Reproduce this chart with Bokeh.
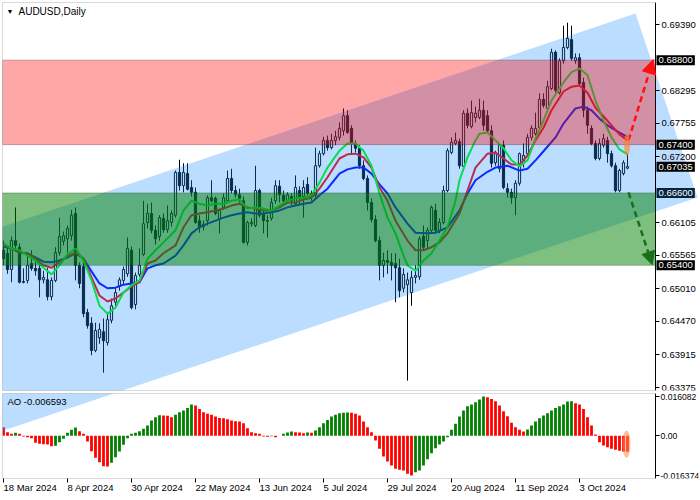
from bokeh.plotting import figure
from bokeh.layouts import column
from bokeh.models import (Range1d, FixedTicker, PrintfTickFormatter, Label, Arrow,
                          NormalHead, ColumnDataSource, BoxAnnotation)
from bokeh.embed import file_html
from bokeh.resources import INLINE

# ---------------- data ----------------
opens = [0.6565,0.6560,0.6533,0.6581,0.6570,0.6513,0.6515,0.6543,0.6535,0.6535,
         0.6516,0.6516,0.6488,0.6515,0.6561,0.6580,0.6584,0.6589,0.6626,0.6540,
         0.6538,0.6462,0.6444,0.6399,0.6420,0.6430,0.6412,0.6449,0.6479,0.6505,
         0.6515,0.6526,0.6565,0.6475,0.6525,0.6558,0.6611,0.6626,0.6598,0.6588,
         0.6618,0.6599,0.6611,0.6623,0.6694,0.6672,0.6692,0.6669,0.6661,0.6614,
         0.6604,0.6614,0.6652,0.6651,0.6618,0.6636,0.6647,0.6684,0.6664,0.6657,
         0.6647,0.6578,0.6609,0.6606,0.6664,0.6626,0.6614,0.6618,0.6647,0.6671,
         0.6656,0.6647,0.6654,0.6642,0.6664,0.6654,0.6674,0.6659,0.6656,0.6705,
         0.6725,0.6747,0.6735,0.6747,0.6752,0.6763,0.6788,0.6767,0.6742,0.6734,
         0.6705,0.6684,0.6644,0.6616,0.6581,0.6540,0.6548,0.6545,0.6543,0.6536,
         0.6502,0.6508,0.6495,0.6520,0.6521,0.6588,0.6581,0.6598,0.6631,0.6598,
         0.6611,0.6664,0.6727,0.6742,0.6745,0.6704,0.6792,0.6770,0.6785,0.6785,
         0.6797,0.6788,0.6763,0.6710,0.6700,0.6739,0.6667,0.6661,0.6652,0.6676,
         0.6709,0.6725,0.6752,0.6758,0.6768,0.6815,0.6800,0.6833,0.6893,0.6826,
         0.6879,0.6901,0.6914,0.6879,0.6884,0.6843,0.6797,0.6767,0.6742,0.6717,
         0.6739,0.6747,0.6725,0.6705,0.6664,0.6692,0.6701]
highs = [0.6581,0.6573,0.6588,0.6636,0.6576,0.6535,0.6560,0.6565,0.6545,0.6540,
         0.6531,0.6536,0.6520,0.6570,0.6619,0.6596,0.6606,0.6632,0.6636,0.6545,
         0.6545,0.6468,0.6454,0.6445,0.6444,0.6452,0.6460,0.6485,0.6503,0.6520,
         0.6538,0.6586,0.6571,0.6528,0.6568,0.6647,0.6642,0.6644,0.6606,0.6623,
         0.6626,0.6639,0.6631,0.6697,0.6715,0.6709,0.6709,0.6681,0.6669,0.6623,
         0.6614,0.6656,0.6681,0.6654,0.6634,0.6659,0.6697,0.6700,0.6672,0.6667,
         0.6654,0.6614,0.6618,0.6705,0.6667,0.6631,0.6623,0.6652,0.6681,0.6681,
         0.6664,0.6661,0.6659,0.6689,0.6671,0.6681,0.6686,0.6664,0.6735,0.6730,
         0.6753,0.6755,0.6758,0.6763,0.6777,0.6800,0.6797,0.6772,0.6747,0.6739,
         0.6714,0.6689,0.6651,0.6623,0.6588,0.6561,0.6565,0.6560,0.6560,0.6551,
         0.6535,0.6528,0.6531,0.6540,0.6588,0.6606,0.6603,0.6639,0.6642,0.6618,
         0.6672,0.6734,0.6752,0.6760,0.6750,0.6797,0.6800,0.6813,0.6803,0.6816,
         0.6813,0.6797,0.6772,0.6730,0.6742,0.6747,0.6676,0.6667,0.6681,0.6727,
         0.6742,0.6758,0.6772,0.6793,0.6825,0.6825,0.6846,0.6899,0.6896,0.6883,
         0.6937,0.6942,0.6937,0.6891,0.6891,0.6851,0.6803,0.6772,0.6747,0.6750,
         0.6758,0.6753,0.6730,0.6710,0.6700,0.6714,0.6725]
lows = [0.6540,0.6526,0.6512,0.6565,0.6510,0.6510,0.6510,0.6531,0.6523,0.6487,
        0.6510,0.6482,0.6482,0.6512,0.6556,0.6573,0.6561,0.6581,0.6515,0.6502,
        0.6454,0.6435,0.6391,0.6396,0.6410,0.6362,0.6407,0.6444,0.6473,0.6498,
        0.6507,0.6521,0.6467,0.6467,0.6521,0.6555,0.6601,0.6593,0.6574,0.6581,
        0.6594,0.6594,0.6604,0.6619,0.6664,0.6661,0.6664,0.6654,0.6609,0.6594,
        0.6598,0.6606,0.6644,0.6623,0.6593,0.6632,0.6644,0.6659,0.6652,0.6644,
        0.6576,0.6573,0.6604,0.6603,0.6619,0.6593,0.6586,0.6614,0.6642,0.6644,
        0.6642,0.6644,0.6639,0.6639,0.6641,0.6619,0.6656,0.6647,0.6652,0.6702,
        0.6722,0.6730,0.6732,0.6739,0.6747,0.6755,0.6758,0.6725,0.6727,0.6700,
        0.6681,0.6631,0.6611,0.6578,0.6515,0.6520,0.6526,0.6515,0.6479,0.6487,
        0.6495,0.6349,0.6473,0.6510,0.6516,0.6566,0.6568,0.6594,0.6594,0.6593,
        0.6608,0.6661,0.6724,0.6739,0.6700,0.6697,0.6767,0.6767,0.6777,0.6782,
        0.6763,0.6760,0.6702,0.6705,0.6694,0.6666,0.6652,0.6642,0.6623,0.6672,
        0.6702,0.6722,0.6747,0.6755,0.6765,0.6801,0.6797,0.6830,0.6826,0.6823,
        0.6874,0.6898,0.6879,0.6874,0.6838,0.6785,0.6758,0.6739,0.6714,0.6714,
        0.6735,0.6710,0.6702,0.6661,0.6661,0.6689,0.6699]
closes = [0.6551,0.6533,0.6581,0.6573,0.6512,0.6512,0.6540,0.6535,0.6531,0.6516,
          0.6520,0.6488,0.6515,0.6561,0.6588,0.6589,0.6601,0.6623,0.6540,0.6510,
          0.6460,0.6440,0.6399,0.6432,0.6434,0.6415,0.6450,0.6473,0.6495,0.6516,
          0.6533,0.6568,0.6470,0.6523,0.6540,0.6609,0.6626,0.6598,0.6584,0.6619,
          0.6599,0.6614,0.6626,0.6694,0.6672,0.6694,0.6666,0.6661,0.6611,0.6603,
          0.6608,0.6652,0.6647,0.6626,0.6631,0.6652,0.6684,0.6664,0.6657,0.6651,
          0.6578,0.6611,0.6611,0.6664,0.6623,0.6614,0.6613,0.6644,0.6672,0.6657,
          0.6647,0.6657,0.6647,0.6669,0.6651,0.6669,0.6659,0.6654,0.6705,0.6725,
          0.6747,0.6735,0.6747,0.6753,0.6767,0.6788,0.6760,0.6742,0.6734,0.6705,
          0.6684,0.6644,0.6616,0.6581,0.6540,0.6548,0.6545,0.6540,0.6536,0.6498,
          0.6525,0.6516,0.6520,0.6523,0.6584,0.6570,0.6598,0.6636,0.6598,0.6611,
          0.6664,0.6730,0.6744,0.6747,0.6705,0.6792,0.6772,0.6793,0.6792,0.6797,
          0.6772,0.6763,0.6709,0.6725,0.6739,0.6669,0.6661,0.6652,0.6676,0.6725,
          0.6722,0.6752,0.6767,0.6767,0.6815,0.6805,0.6836,0.6893,0.6830,0.6879,
          0.6901,0.6916,0.6883,0.6884,0.6841,0.6797,0.6772,0.6742,0.6717,0.6742,
          0.6750,0.6725,0.6705,0.6664,0.6697,0.6710,0.67035]

# Alligator lines (sampled along the curves)
jaw_x = [0,2,4,6,8,10,12,14,16,18,20,22,24,26,28,30,32,34,36,38,40,43,45,47,49,51,53,55,57,59,
         61,63,65,67,69,71,73,75,77,79,81,84,86,88,90,92,94,96,98,101,103,106,108,111,114,116,
         118,121,123,126,129,131,133,135,138,140,143,145,147,149,151,154,156]
jaw = [0.6571,0.6568,0.6561,0.6560,0.6553,0.6546,0.6545,0.6548,0.6553,0.6560,0.6551,0.6530,
       0.6510,0.6502,0.6503,0.6508,0.6510,0.6512,0.6535,0.6540,0.6543,0.6556,0.6573,0.6593,
       0.6603,0.6609,0.6614,0.6619,0.6623,0.6626,0.6628,0.6626,0.6626,0.6628,0.6631,0.6636,
       0.6639,0.6642,0.6644,0.6656,0.6667,0.6692,0.6699,0.6702,0.6702,0.6692,0.6674,0.6659,
       0.6636,0.6609,0.6594,0.6593,0.6594,0.6603,0.6631,0.6659,0.6681,0.6695,0.6702,0.6705,
       0.6697,0.6700,0.6714,0.6729,0.6752,0.6775,0.6800,0.6803,0.6797,0.6783,0.6772,0.6760,
       0.6753]
teeth_x = [0,2,4,6,8,10,12,14,16,18,20,22,24,26,28,30,32,34,36,38,40,43,45,47,49,51,53,55,57,59,
           61,63,65,67,69,71,73,75,77,79,81,84,86,88,90,92,94,96,98,101,103,105,107,109,111,114,
           116,118,121,123,125,127,129,131,133,135,137,140,142,144,146,148,150,152,154,156]
teeth = [0.6573,0.6568,0.6561,0.6560,0.6551,0.6540,0.6536,0.6545,0.6555,0.6561,0.6551,0.6520,
         0.6490,0.6480,0.6485,0.6495,0.6505,0.6512,0.6543,0.6548,0.6560,0.6573,0.6603,0.6623,
         0.6626,0.6628,0.6631,0.6634,0.6639,0.6642,0.6636,0.6634,0.6631,0.6631,0.6636,0.6644,
         0.6644,0.6649,0.6652,0.6667,0.6686,0.6717,0.6724,0.6725,0.6719,0.6702,0.6669,0.6647,
         0.6614,0.6581,0.6565,0.6565,0.6570,0.6578,0.6593,0.6626,0.6664,0.6702,0.6725,0.6727,
         0.6717,0.6707,0.6707,0.6722,0.6747,0.6768,0.6797,0.6828,0.6836,0.6838,0.6826,0.6801,
         0.6787,0.6772,0.6757,0.6747]
lips_x = [0,2,4,6,8,10,12,14,16,18,20,22,24,26,28,30,32,34,36,38,40,43,45,47,49,51,53,55,57,59,
          61,63,65,67,69,71,73,75,77,79,81,84,86,88,90,92,94,96,98,100,101,103,105,107,109,111,
          113,114,116,118,119,121,123,125,127,129,131,133,135,137,140,142,144,146,148,150,152,
          154,156]
lips = [0.6576,0.6568,0.6565,0.6556,0.6548,0.6536,0.6525,0.6540,0.6558,0.6568,0.6548,0.6515,
        0.6473,0.6460,0.6470,0.6495,0.6507,0.6515,0.6551,0.6565,0.6578,0.6598,0.6631,0.6647,
        0.6642,0.6639,0.6642,0.6642,0.6647,0.6649,0.6634,0.6636,0.6634,0.6631,0.6639,0.6647,
        0.6651,0.6652,0.6656,0.6677,0.6702,0.6730,0.6742,0.6742,0.6730,0.6705,0.6659,0.6619,
        0.6593,0.6556,0.6540,0.6531,0.6548,0.6560,0.6581,0.6603,0.6647,0.6681,0.6719,0.6747,
        0.6758,0.6760,0.6747,0.6734,0.6714,0.6704,0.6714,0.6750,0.6780,0.6813,0.6843,0.6860,
        0.6866,0.6855,0.6813,0.6780,0.6752,0.6732,0.6724]

# Awesome Oscillator
ao = [0.00349,0.00144,0.00075,0.00116,0.00075,-0.00034,-0.00062,-0.00103,-0.00294,-0.00335,
      -0.00349,-0.00363,-0.00431,-0.00418,-0.00267,-0.00130,0.00116,0.00240,0.00335,0.00185,
      0.00075,-0.00240,-0.00637,-0.00910,-0.01088,-0.01253,-0.01266,-0.01116,-0.00883,-0.00650,
      -0.00376,-0.00103,0.00075,0.00116,0.00185,0.00281,0.00418,0.00623,0.00760,0.00842,
      0.00828,0.00815,0.00760,0.00856,0.00965,0.01034,0.01143,0.01280,0.01239,0.01102,
      0.00965,0.00897,0.00856,0.00787,0.00732,0.00719,0.00678,0.00623,0.00596,0.00582,
      0.00513,0.00308,0.00144,0.00103,0.00075,-0.00034,-0.00048,-0.00021,-0.00062,-0.00007,
      0.00075,0.00130,0.00171,0.00144,0.00130,0.00103,0.00130,0.00116,0.00212,0.00349,
      0.00513,0.00650,0.00787,0.00856,0.00924,0.00938,0.00951,0.00938,0.00897,0.00828,
      0.00582,0.00349,0.00144,-0.00199,-0.00541,-0.00856,-0.01061,-0.01225,-0.01362,-0.01403,
      -0.01431,-0.01568,-0.016374,-0.01499,-0.01431,-0.01225,-0.00965,-0.00719,-0.00513,-0.00363,
      -0.00240,-0.00062,0.00240,0.00486,0.00787,0.01034,0.01212,0.01280,0.01376,0.01485,
      0.016082,0.01581,0.01513,0.01417,0.01239,0.01006,0.00801,0.00527,0.00349,0.00240,
      0.00171,0.00253,0.00418,0.00582,0.00719,0.00828,0.00924,0.01034,0.01143,0.01212,
      0.01280,0.01403,0.01417,0.01335,0.01280,0.01102,0.00760,0.00418,0.00048,-0.00267,
      -0.00404,-0.00472,-0.00541,-0.00582,-0.00623,-0.00650,-0.006593]

price_ticks = [0.69390, 0.68295, 0.67755, 0.67200, 0.66105, 0.65565, 0.65010, 0.64470, 0.63915, 0.63375]
marked_levels = [0.68800, 0.67400, 0.67035, 0.66600, 0.65400]
date_ticks = [0, 16, 32, 48, 64, 80, 96, 112, 128, 144]
date_labels = ["18 Mar 2024", "8 Apr 2024", "30 Apr 2024", "22 May 2024", "13 Jun 2024",
               "5 Jul 2024", "29 Jul 2024", "20 Aug 2024", "11 Sep 2024", "3 Oct 2024"]
ao_ticks = [0.016082, 0.0, -0.016374]
ao_tick_labels = ["0.016082", "0.00", "-0.016374"]

# analyst drawings (bar index, price)
channel_x = [-5.75, 158.0, 173.5, -5.75]
channel_y = [0.65916, 0.69573, 0.66524, 0.62535]
resist_zone = (0.674, 0.688)
support_zone = (0.654, 0.666)
up_arrow = (156.25, 0.6747, 162.4, 0.6881)
down_arrow = (156.25, 0.6661, 162.2, 0.6541)

# ---------------- layout ----------------
FONT = "Liberation Sans"
FS = "9.5px"
X0 = -0.25
PX_PER_BAR = 4.0
FW = 696
X1 = X0 + FW / PX_PER_BAR
AXIS_X = 163.0          # right edge of the price panels (price scale sits here)
P0, P1 = 0.63326, 0.69755
A0, A1 = -0.01759, 0.01734
MH, AH = 388, 85
MAIN_BOTTOM, AO_TOP = 3, 0
GAP = MAIN_BOTTOM + AO_TOP

N = len(closes)
idx = list(range(N))


def style_price_axis(ax, size, standoff):
    ax.fixed_location = AXIS_X
    ax.major_label_text_font = FONT
    ax.major_label_text_font_size = size
    ax.major_label_text_color = "black"
    ax.major_tick_out = 4
    ax.major_tick_in = 0
    ax.minor_tick_out = 0
    ax.minor_tick_in = 0
    ax.major_label_standoff = standoff
    ax.axis_line_color = "black"


main = figure(frame_width=FW, frame_height=MH, x_range=Range1d(X0, X1), y_range=Range1d(P0, P1),
              output_backend="svg", toolbar_location=None, y_axis_location="right",
              x_axis_location=None, min_border_left=2, min_border_right=1,
              min_border_top=2, min_border_bottom=MAIN_BOTTOM)
main.grid.visible = False
main.outline_line_color = None
main.background_fill_color = "white"
main.border_fill_color = "white"

ya = main.yaxis[0]
ya.ticker = FixedTicker(ticks=price_ticks)
ya.formatter = PrintfTickFormatter(format="%.5f")
style_price_axis(ya, FS, 2)

src = ColumnDataSource(dict(
    x=idx, h=highs, l=lows,
    top=[max(o, c) for o, c in zip(opens, closes)],
    bot=[min(o, c) for o, c in zip(opens, closes)],
    fill=["white" if c > o else "black" for o, c in zip(opens, closes)],
))
main.segment("x", "h", "x", "l", source=src, line_color="black", line_width=1)
main.vbar(x="x", width=0.55, top="top", bottom="bot", source=src,
          fill_color="fill", line_color="black", line_width=1)

main.line(jaw_x, jaw, line_color="#0000ff", line_width=2)
main.line(teeth_x, teeth, line_color="#ff0000", line_width=2)
main.line(lips_x, lips, line_color="#00ff00", line_width=2)

main.patch(channel_x, channel_y, fill_color="#1e90ff", fill_alpha=0.3, line_color=None)

main.add_layout(BoxAnnotation(bottom=resist_zone[0], top=resist_zone[1], right=AXIS_X,
                              fill_color="#ff0000", fill_alpha=0.35,
                              line_color="#4a1020", line_width=1))
main.add_layout(BoxAnnotation(bottom=support_zone[0], top=support_zone[1], right=AXIS_X,
                              fill_color="#008000", fill_alpha=0.5,
                              line_color="#0b3a22", line_width=1))
# panel frame
main.add_layout(BoxAnnotation(right=AXIS_X, fill_color=None, fill_alpha=0,
                              line_color="black", line_width=1))

main.add_layout(Arrow(x_start=up_arrow[0], y_start=up_arrow[1], x_end=up_arrow[2], y_end=up_arrow[3],
                      line_color="#ff1010", line_width=2.5, line_dash="6 4",
                      end=NormalHead(size=14, fill_color="#ff1010", line_color="#ff1010")))
main.add_layout(Arrow(x_start=down_arrow[0], y_start=down_arrow[1], x_end=down_arrow[2], y_end=down_arrow[3],
                      line_color="#187018", line_width=2.5, line_dash="6 4",
                      end=NormalHead(size=13, fill_color="#187018", line_color="#187018")))

hl = main.ellipse(x=[N - 1 - 0.1], y=[0.6740], width=[1.5], height=[0.0037],
                  fill_color="#ff7f27", fill_alpha=0.6, line_color=None)
hl.level = "overlay"

main.add_layout(Label(x=X0, y=P1, x_offset=4, y_offset=-5, text="\u25BC", text_font=FONT,
                      text_font_size="7px", text_baseline="top", text_color="black"))
main.add_layout(Label(x=X0, y=P1, x_offset=16, y_offset=-3, text="AUDUSD,Daily", text_font=FONT,
                      text_font_size="10px", text_baseline="top", text_color="black"))

for lv in marked_levels:
    bg = "#06243f" if abs(lv - 0.666) < 1e-6 else "black"
    main.add_layout(Label(x=AXIS_X, y=lv, x_offset=1, text="%.5f" % lv, text_font=FONT,
                          text_font_size=FS, text_color="white", text_baseline="middle",
                          text_align="left", background_fill_color=bg, padding=2))

# ---------------- AO panel ----------------
aof = figure(frame_width=FW, frame_height=AH, x_range=main.x_range, y_range=Range1d(A0, A1),
             output_backend="svg", toolbar_location=None, y_axis_location="right",
             min_border_left=2, min_border_right=1, min_border_top=AO_TOP)
aof.grid.visible = False
aof.outline_line_color = None
aof.background_fill_color = "white"
aof.border_fill_color = "white"

ao_colors = ["#ff0000"] + ["#008000" if ao[k] > ao[k - 1] else "#ff0000" for k in range(1, N)]
aof.vbar(x=idx, top=ao, bottom=0, width=0.7, fill_color=ao_colors, line_color=None)


def price_to_ao(p):
    s = (P1 - p) / (P1 - P0) * MH
    s_ao = s - (MH + GAP)
    return A1 - s_ao / AH * (A1 - A0)


aof.patch(channel_x, [price_to_ao(p) for p in channel_y], fill_color="#1e90ff", fill_alpha=0.3,
          line_color=None)

hl2 = aof.ellipse(x=[N - 1.25], y=[-0.0035], width=[2.0], height=[0.0112],
                  fill_color="#ff8c4c", fill_alpha=0.55, line_color=None)
hl2.level = "overlay"

aof.add_layout(BoxAnnotation(right=AXIS_X, fill_color=None, fill_alpha=0,
                             line_color="black", line_width=1))

aof.add_layout(Label(x=X0, y=A1, x_offset=5, y_offset=-2, text="AO -0.006593", text_font=FONT,
                     text_font_size=FS, text_baseline="top", text_color="black"))

ay = aof.yaxis[0]
ay.ticker = FixedTicker(ticks=ao_ticks)
ay.major_label_overrides = {t: s for t, s in zip(ao_ticks, ao_tick_labels)}
style_price_axis(ay, "8.6px", 1)

xa = aof.xaxis[0]
xa.ticker = FixedTicker(ticks=date_ticks)
xa.major_label_overrides = {t: s for t, s in zip(date_ticks, date_labels)}
xa.major_label_text_font = FONT
xa.major_label_text_font_size = FS
xa.major_label_text_color = "black"
xa.major_label_orientation = -0.0001
xa.major_tick_out = 4
xa.major_tick_in = 0
xa.minor_tick_out = 0
xa.minor_tick_in = 0
xa.major_label_standoff = 5
xa.axis_line_color = None

layout = column(main, aof, spacing=0)
open("out.html", "w").write(file_html(layout, INLINE))
